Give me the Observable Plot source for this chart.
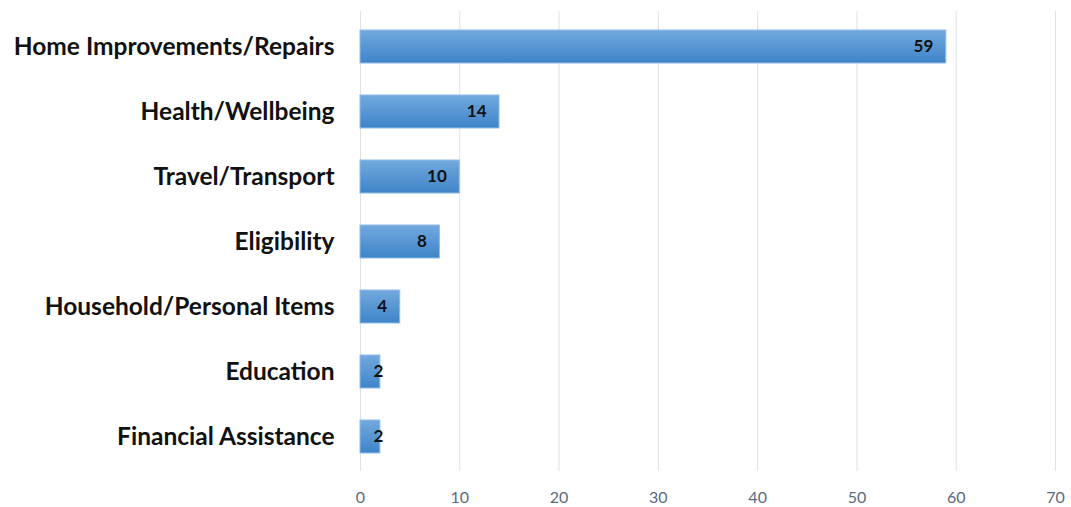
<!DOCTYPE html>
<html>
<head>
<meta charset="utf-8">
<script src="https://cdn.jsdelivr.net/npm/d3@7"></script>
<script src="https://cdn.jsdelivr.net/npm/@observablehq/plot@0.6"></script>
<style>
  html, body { margin: 0; padding: 0; background: #fff; }
  #chart { width: 1071px; height: 507px; }
</style>
</head>
<body>
<div id="chart"></div>
<script>
const categories = [
  "Home Improvements/Repairs",
  "Health/Wellbeing",
  "Travel/Transport",
  "Eligibility",
  "Household/Personal Items",
  "Education",
  "Financial Assistance"
];
const counts = [59, 14, 10, 8, 4, 2, 2];
const xTicks = [0, 10, 20, 30, 40, 50, 60, 70];

const data = categories.map((c, i) => ({category: c, count: counts[i]}));

const chart = Plot.plot({
  width: 1071,
  height: 507,
  marginLeft: 360,
  marginRight: 16,
  marginTop: 11,
  marginBottom: 36,
  style: {background: "#fff", fontFamily: "Lato, 'Open Sans', sans-serif"},
  x: {domain: [0, 70], ticks: xTicks, label: null},
  y: {domain: categories, label: null, paddingInner: 0.5, paddingOuter: 0.25},
  marks: [
    Plot.ruleX(xTicks, {stroke: "#dce1e8", strokeWidth: 1}),
    Plot.barX(data, {
      x: "count", y: "category",
      fill: "url(#barGrad)", stroke: "#90bce8", strokeWidth: 1
    }),
    Plot.text(data.filter(d => d.count >= 4), {
      x: "count", y: "category", text: d => String(d.count),
      textAnchor: "end", dx: -13, fill: "#111",
      fontWeight: "bold", fontSize: 17
    }),
    Plot.text(data.filter(d => d.count < 4), {
      x: "count", y: "category", text: d => String(d.count),
      textAnchor: "end", dx: 3, fill: "#111",
      fontWeight: "bold", fontSize: 17
    }),
    Plot.axisX({ticks: xTicks, tickSize: 0, tickPadding: 20, fontSize: 16, color: "#596b7e", label: null}),
    Plot.axisY({tickSize: 0, tickPadding: 26, fontSize: 24.5, fontWeight: "bold", color: "#111", label: null})
  ]
});

const defs = d3.create("svg:defs");
const g = defs.append("linearGradient").attr("id", "barGrad")
  .attr("x1", 0).attr("y1", 0).attr("x2", 0).attr("y2", 1);
g.append("stop").attr("offset", "0%").attr("stop-color", "#72a9de");
g.append("stop").attr("offset", "100%").attr("stop-color", "#3f84c8");
chart.insertBefore(defs.node(), chart.firstChild);

document.getElementById("chart").appendChild(chart);
</script>
</body>
</html>
